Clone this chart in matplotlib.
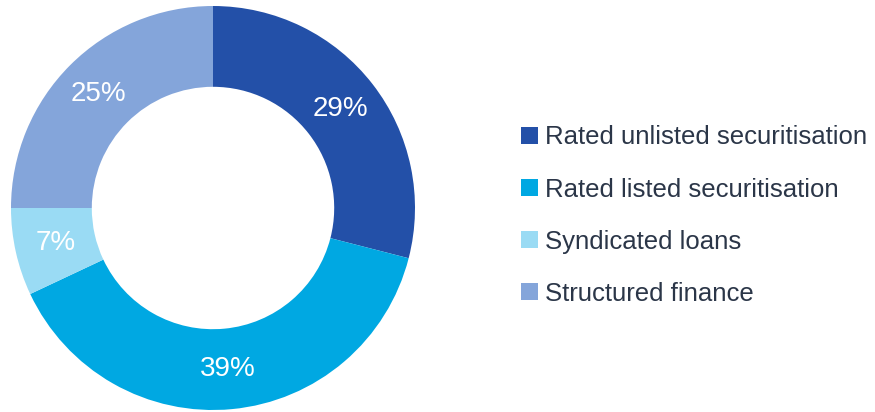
import matplotlib
matplotlib.use("Agg")
import matplotlib.pyplot as plt
from matplotlib.patches import Rectangle

categories = ["Rated unlisted securitisation", "Rated listed securitisation",
              "Syndicated loans", "Structured finance"]
shares = [29, 39, 7, 25]
colors = ["#2350A8", "#00A8E2", "#9ADBF4", "#84A5DA"]

plt.rcParams['font.family'] = ['Liberation Sans', 'DejaVu Sans']

W, H = 875, 412
fig = plt.figure(figsize=(W / 100, H / 100), dpi=100)
ax = fig.add_axes([11 / W, 2 / H, 404 / W, 404 / H])

wedges, texts, autotexts = ax.pie(
    shares, colors=colors, startangle=90, counterclock=False,
    radius=1.0, wedgeprops=dict(width=0.4, edgecolor='none'),
    autopct=lambda p: f"{p:.0f}%", pctdistance=0.8,
    textprops=dict(color='white', fontsize=20))
ax.set_xlim(-1, 1)
ax.set_ylim(-1, 1)
ax.set_aspect('equal')

# legend drawn by hand so the rows sit exactly where the reference has them
row_y = 135
for label, c in zip(categories, colors):
    y = 1 - row_y / H
    fig.patches.append(Rectangle((521 / W, y - 8.5 / H), 16.5 / W, 17 / H,
                                 transform=fig.transFigure, facecolor=c,
                                 edgecolor='none'))
    fig.text(545 / W, y, label, fontsize=18.5, color='#2B3648',
             ha='left', va='center_baseline')
    row_y += 52.3

fig.savefig("out.png", dpi=100)
